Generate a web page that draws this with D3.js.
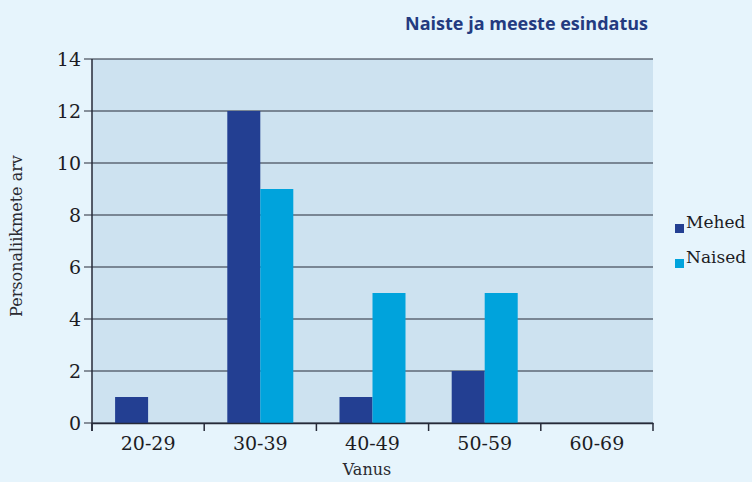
<!DOCTYPE html>
<html>
<head>
<meta charset="utf-8">
<script src="https://cdn.jsdelivr.net/npm/d3@7"></script>
<style>
  body { margin: 0; background: #e6f4fc; }
  svg { display: block; }
</style>
</head>
<body>
<svg width="752" height="482"></svg>
<script>
let categories = ["20-29", "30-39", "40-49", "50-59", "60-69"];
let mehed = [1, 12, 1, 2, 0];
let naised = [0, 9, 5, 5, 0];
let yTicks = [0, 2, 4, 6, 8, 10, 12, 14];
let seriesNames = ["Mehed", "Naised"];
let colors = ["#233f92", "#00a3dc"];

let svg = d3.select("svg");
let margin = {left: 92, right: 99, top: 59, bottom: 59};
let w = 752 - margin.left - margin.right;
let h = 482 - margin.top - margin.bottom;

svg.append("rect").attr("width", 752).attr("height", 482).attr("fill", "#e6f4fc");

let g = svg.append("g").attr("transform", `translate(${margin.left},${margin.top})`);

let x = d3.scaleBand().domain(categories).range([0, w]);
// two bars per group, about 23px empty on each side
let x1 = d3.scaleBand().domain(seriesNames).range([0, x.bandwidth()]).paddingOuter(0.7);
let y = d3.scaleLinear().domain([0, 14]).range([h, 0]);

// plot background
g.append("rect").attr("width", w).attr("height", h).attr("fill", "#cde2f0");

// gridlines with tick stubs
g.selectAll(".grid").data(yTicks).join("line")
    .attr("x1", -8).attr("x2", w)
    .attr("y1", d => y(d)).attr("y2", d => y(d))
    .attr("stroke", "#262a38").attr("stroke-width", 1.2);

// bars
let data = categories.map((c, i) => ({cat: c, vals: [mehed[i], naised[i]]}));
g.selectAll(".grp").data(data).join("g")
    .attr("transform", d => `translate(${x(d.cat)},0)`)
    .selectAll("rect").data(d => d.vals.map((v, k) => ({v, k})))
    .join("rect")
    .attr("x", d => x1(seriesNames[d.k]))
    .attr("width", x1.bandwidth())
    .attr("y", d => y(d.v))
    .attr("height", d => h - y(d.v))
    .attr("fill", d => colors[d.k]);

// y axis line
g.append("line").attr("x1", 0).attr("x2", 0).attr("y1", 0).attr("y2", h + 8)
    .attr("stroke", "#262a38").attr("stroke-width", 1.5);

// x axis
let xAxis = g.append("g").attr("transform", `translate(0,${h})`)
    .call(d3.axisBottom(x).tickSize(0).tickPadding(14));
xAxis.select(".domain").attr("stroke", "#262a38").attr("stroke-width", 1.5);
xAxis.selectAll("text").attr("font-family", "DejaVu Serif").attr("font-size", 19).attr("fill", "#1c1c24");
let bounds = categories.map(c => x(c)).concat([w]);
g.selectAll(".xtick").data(bounds).join("line")
    .attr("x1", d => d).attr("x2", d => d)
    .attr("y1", h).attr("y2", h + 8)
    .attr("stroke", "#262a38").attr("stroke-width", 1.5);

// y tick labels
g.selectAll(".ylab").data(yTicks).join("text")
    .attr("x", -11).attr("y", d => y(d)).attr("dy", "0.36em")
    .attr("text-anchor", "end")
    .attr("font-family", "DejaVu Serif").attr("font-size", 19).attr("fill", "#1c1c24")
    .text(d => d);

// axis titles
svg.append("text").attr("x", 367).attr("y", 475).attr("text-anchor", "middle")
    .attr("font-family", "DejaVu Serif").attr("font-size", 16).attr("fill", "#2a2a30")
    .text("Vanus");
svg.append("text").attr("transform", "translate(22,236) rotate(-90)").attr("text-anchor", "middle")
    .attr("font-family", "DejaVu Serif").attr("font-size", 16).attr("fill", "#2a2a30")
    .text("Personaliikmete arv");

// title
svg.append("text").attr("x", 648).attr("y", 30).attr("text-anchor", "end")
    .attr("font-family", "Open Sans").attr("font-weight", "bold").attr("font-size", 18)
    .attr("fill", "#233a80").text("Naiste ja meeste esindatus");

// legend
let legend = svg.selectAll(".leg").data(seriesNames).join("g")
    .attr("transform", (d, i) => `translate(675,${224 + i * 35})`);
legend.append("rect").attr("width", 9).attr("height", 9).attr("fill", (d, i) => colors[i]);
legend.append("text").attr("x", 11).attr("y", 4)
    .attr("font-family", "DejaVu Serif").attr("font-size", 17).attr("fill", "#1c1c24")
    .text(d => d);
</script>
</body>
</html>
